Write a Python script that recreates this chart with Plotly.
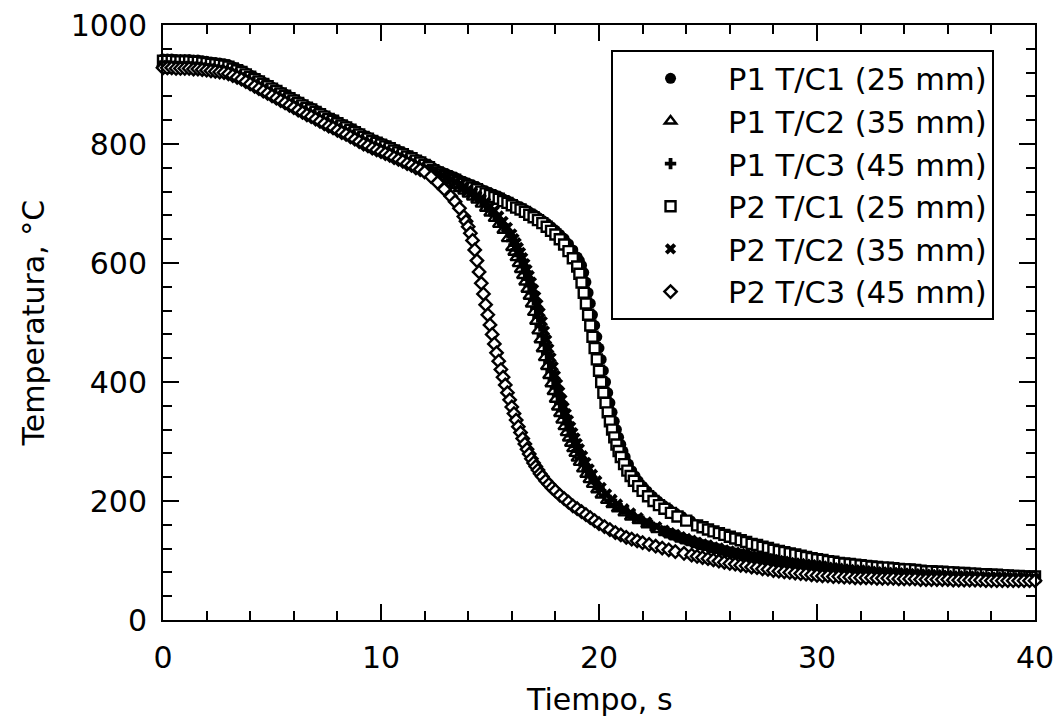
import plotly.graph_objects as go

FONT = "DejaVu Sans"

# ================= data (time in s, temperature in °C) =================
# ---- shared time samples ----
TRUNK_T = [0.0, 0.2, 0.4, 0.6, 0.8, 1.0, 1.2, 1.4, 1.6, 1.8, 2.0, 2.2, 2.4, 2.6, 2.8, 3.0, 3.2,
           3.4, 3.6, 3.8, 4.0, 4.2, 4.4, 4.6, 4.8, 5.0, 5.2, 5.4, 5.6, 5.8, 6.0, 6.2, 6.4, 6.6,
           6.8, 7.0, 7.2, 7.4, 7.6, 7.8, 8.0, 8.2, 8.4, 8.6, 8.8, 9.0, 9.2, 9.4, 9.6, 9.8, 10.0,
           10.2, 10.4, 10.6, 10.8, 11.0, 11.2, 11.4, 11.6, 11.8, 12.0]
RIGHT_PRE_T = [12.2, 12.4, 12.6, 12.8, 13.0, 13.2, 13.4, 13.6, 13.8, 14.0, 14.2, 14.4, 14.6, 14.8,
               15.0, 15.2, 15.4, 15.6, 15.8, 16.0, 16.2, 16.4, 16.6, 16.8, 17.0, 17.2, 17.4, 17.6,
               17.8, 18.0, 18.2, 18.4, 18.6, 18.8]
RIGHT_TAIL_T = [24.5, 24.75, 25.0, 25.25, 25.5, 25.75, 26.0, 26.25, 26.5, 26.75, 27.0, 27.25, 27.5,
                27.75, 28.0, 28.25, 28.5, 28.75, 29.0, 29.25, 29.5, 29.75, 30.0, 30.25, 30.5, 30.75,
                31.0, 31.25, 31.5, 31.75, 32.0, 32.25, 32.5, 32.75, 33.0, 33.25, 33.5, 33.75, 34.0,
                34.25, 34.5, 34.75, 35.0, 35.25, 35.5, 35.75, 36.0, 36.25, 36.5, 36.75, 37.0, 37.25,
                37.5, 37.75, 38.0, 38.25, 38.5, 38.75, 39.0, 39.25, 39.5, 39.75, 40.0]
MID_PRE_T = [12.2, 12.4, 12.6, 12.8, 13.0, 13.2, 13.4, 13.6, 13.8, 14.0, 14.2, 14.4, 14.6, 14.8,
             15.0, 15.2, 15.4, 15.6, 15.8]
MID_STEEP_T = [16.0, 16.1, 16.2, 16.3, 16.4, 16.5, 16.6, 16.7, 16.8, 16.9, 17.0, 17.1, 17.2, 17.3,
               17.4, 17.5, 17.6, 17.7, 17.8, 17.9, 18.0, 18.1, 18.2, 18.3, 18.4, 18.5, 18.6, 18.7,
               18.8, 18.9, 19.0]
MID_KNEE_T = [19.1, 19.25, 19.4, 19.55, 19.7, 19.9, 20.1, 20.35, 20.6, 20.85, 21.15, 21.45, 21.8,
              22.2, 22.65]
MID_TAIL_T = [23.0, 23.25, 23.5, 23.75, 24.0, 24.25, 24.5, 24.75, 25.0, 25.25, 25.5, 25.75, 26.0,
              26.25, 26.5, 26.75, 27.0, 27.25, 27.5, 27.75, 28.0, 28.25, 28.5, 28.75, 29.0, 29.25,
              29.5, 29.75, 30.0, 30.25, 30.5, 30.75, 31.0, 31.25, 31.5, 31.75, 32.0, 32.25, 32.5,
              32.75, 33.0, 33.25, 33.5, 33.75, 34.0, 34.25, 34.5, 34.75, 35.0, 35.25, 35.5, 35.75,
              36.0, 36.25, 36.5, 36.75, 37.0, 37.25, 37.5, 37.75, 38.0, 38.25, 38.5, 38.75, 39.0,
              39.25, 39.5, 39.75, 40.0]
DIAM_TAIL_T = [24.25, 24.5, 24.75, 25.0, 25.25, 25.5, 25.75, 26.0, 26.25, 26.5, 26.75, 27.0, 27.25,
               27.5, 27.75, 28.0, 28.25, 28.5, 28.75, 29.0, 29.25, 29.5, 29.75, 30.0, 30.25, 30.5,
               30.75, 31.0, 31.25, 31.5, 31.75, 32.0, 32.25, 32.5, 32.75, 33.0, 33.25, 33.5, 33.75,
               34.0, 34.25, 34.5, 34.75, 35.0, 35.25, 35.5, 35.75, 36.0, 36.25, 36.5, 36.75, 37.0,
               37.25, 37.5, 37.75, 38.0, 38.25, 38.5, 38.75, 39.0, 39.25, 39.5, 39.75, 40.0]

# ---- P1 T/C1 (25 mm) ----
p1_tc1_time = TRUNK_T + RIGHT_PRE_T + \
    [19.0, 19.1, 19.2, 19.3, 19.4, 19.5, 19.6, 19.7, 19.8, 19.9, 20.0, 20.1, 20.2, 20.3, 20.4,
     20.5, 20.6, 20.7, 20.8, 20.9, 21.0, 21.1, 21.2,
     21.35, 21.5, 21.65, 21.8, 22.0, 22.2, 22.45, 22.7, 22.95, 23.2, 23.5, 23.8, 24.2] + RIGHT_TAIL_T
p1_tc1_temp = [943, 943, 943, 942, 942, 942, 942, 941, 941, 940,
               939, 938, 937, 936, 935, 933, 930, 927, 924, 920,
               916, 912, 908, 904, 900, 896, 892, 888, 884, 880,
               876, 872, 868, 864, 861, 857, 853, 849, 845, 842,
               838, 834, 831, 827, 823, 819, 815, 812, 808, 805,
               802, 799, 796, 792, 789, 786, 782, 779, 775, 772,
               768,
               765, 760, 756, 753, 750, 747, 744, 740, 737, 734, 731, 728, 724, 721, 718, 715, 712,
               708, 705, 701, 697, 694, 690, 686, 682, 677, 672, 667, 661, 655, 648, 641, 632, 622,
               610, 604, 596, 584, 568, 550, 532, 513, 495, 476, 457, 438, 419, 400, 382, 365, 349,
               334, 320, 307, 295, 284, 274,
               262, 251, 242, 234, 225, 217, 208, 200, 193, 187, 180, 174, 167,
               160, 157, 153, 150, 147, 144, 141, 138, 135, 132,
               129, 127, 124, 122, 119, 117, 115, 113, 111, 109,
               107, 105, 103, 102, 100, 99, 97, 96, 95, 94,
               93, 92, 91, 90, 89, 89, 88, 87, 86, 86,
               85, 84, 83, 83, 82, 82, 81, 81, 80, 80,
               79, 79, 78, 78, 77, 77, 76, 76, 75, 75,
               74, 74, 74]

# ---- P1 T/C2 (35 mm) ----
p1_tc2_time = TRUNK_T + MID_PRE_T + MID_STEEP_T + MID_KNEE_T + MID_TAIL_T
p1_tc2_temp = [934, 934, 934, 933, 933, 933, 933, 932, 932, 931,
               930, 929, 928, 927, 926, 924, 921, 918, 915, 911,
               907, 903, 899, 895, 891, 887, 883, 879, 875, 871,
               867, 863, 859, 855, 852, 848, 844, 840, 836, 833,
               829, 825, 822, 818, 814, 810, 806, 803, 799, 796,
               793, 790, 787, 783, 780, 777, 773, 770, 766, 763,
               759,
               754, 749, 746, 742, 738, 734, 730, 725, 721, 716, 711, 706, 699, 692, 684, 675, 665,
               655, 641,
               626, 618, 609, 599, 589, 579, 568, 556, 544, 531, 517, 502, 486, 471, 456, 441, 426,
               411, 397, 384, 371, 358, 347, 336, 325, 315, 306, 297, 288, 280, 272,
               265, 254, 245, 236, 228, 219, 210, 201, 194, 187, 180, 173, 167, 160, 152,
               147, 143, 140, 136, 133, 130, 127, 124, 122, 119,
               117, 114, 112, 110, 108, 106, 104, 102, 101, 99,
               98, 96, 95, 93, 92, 91, 90, 89, 88, 87,
               87, 86, 85, 84, 83, 82, 82, 81, 80, 79,
               79, 78, 78, 77, 77, 76, 76, 75, 75, 74,
               74, 73, 73, 72, 72, 72, 72, 71, 71, 70,
               70, 70, 70, 69, 69, 69, 69, 68, 68]

# ---- P1 T/C3 (45 mm) ----
p1_tc3_time = TRUNK_T + MID_PRE_T + MID_STEEP_T + \
    [19.15, 19.3, 19.45, 19.6, 19.8, 20.0, 20.25, 20.5, 20.75, 21.0, 21.3, 21.6, 22.0, 22.4] + \
    MID_TAIL_T
p1_tc3_temp = [938, 938, 938, 937, 937, 937, 937, 936, 936, 935,
               934, 933, 932, 931, 930, 928, 925, 922, 919, 915,
               911, 907, 903, 899, 895, 891, 887, 883, 879, 875,
               871, 867, 863, 859, 856, 852, 848, 844, 840, 837,
               833, 829, 826, 822, 818, 814, 810, 807, 803, 800,
               797, 794, 791, 787, 784, 781, 777, 774, 770, 767,
               763,
               758, 753, 748, 745, 741, 737, 733, 729, 724, 720, 715, 710, 704, 697, 690, 681, 672,
               663, 652,
               638, 630, 622, 613, 604, 594, 584, 573, 562, 550, 538, 524, 509, 494, 478, 463, 448,
               433, 418, 404, 390, 377, 364, 352, 341, 330, 320, 310, 301, 292, 284,
               272, 261, 251, 242, 231, 221, 210, 201, 194, 187, 180, 173, 166, 159,
               149, 145, 142, 138, 135, 132, 129, 126, 124, 121,
               119, 116, 114, 112, 110, 108, 106, 104, 103, 101,
               100, 98, 97, 95, 94, 93, 92, 91, 90, 89,
               88, 87, 86, 85, 84, 83, 83, 82, 81, 80,
               80, 79, 79, 78, 78, 77, 77, 76, 76, 75,
               75, 74, 74, 73, 73, 73, 73, 72, 72, 71,
               71, 71, 71, 70, 70, 70, 70, 69, 69]

# ---- P2 T/C1 (25 mm) ----
p2_tc1_time = TRUNK_T + RIGHT_PRE_T + \
    [19.0, 19.1, 19.2, 19.3, 19.4, 19.5, 19.6, 19.7, 19.8, 19.9, 20.0, 20.1, 20.2, 20.3, 20.4,
     20.5, 20.6, 20.7, 20.8, 20.9, 21.0,
     21.15, 21.3, 21.45, 21.6, 21.8, 22.0, 22.25, 22.5, 22.75, 23.0, 23.3, 23.6, 24.0] + RIGHT_TAIL_T
p2_tc1_temp = [940, 940, 940, 939, 939, 939, 939, 938, 938, 937,
               936, 935, 934, 933, 932, 930, 927, 924, 921, 917,
               913, 909, 905, 901, 897, 893, 889, 885, 881, 877,
               873, 869, 865, 861, 858, 854, 850, 846, 842, 839,
               835, 831, 828, 824, 820, 816, 812, 809, 805, 802,
               799, 796, 793, 789, 786, 783, 779, 776, 772, 769,
               765,
               761, 756, 752, 749, 746, 743, 740, 736, 733, 730, 727, 724, 720, 717, 714, 711, 708,
               704, 701, 697, 693, 690, 686, 681, 677, 672, 667, 661, 654, 648, 640, 631, 620, 608,
               594, 582, 567, 550, 532, 513, 495, 476, 457, 438, 419, 400, 382, 365, 349, 334, 320,
               307, 295, 284, 274,
               262, 251, 242, 234, 225, 217, 208, 200, 193, 187, 180, 174, 167,
               159, 156, 152, 149, 146, 143, 140, 137, 134, 131,
               128, 126, 123, 121, 118, 116, 114, 112, 110, 108,
               106, 104, 102, 101, 99, 98, 96, 95, 94, 93,
               92, 91, 90, 89, 88, 88, 87, 86, 85, 85,
               84, 83, 82, 82, 81, 81, 80, 80, 79, 79,
               78, 78, 77, 77, 76, 76, 75, 75, 74, 74,
               73, 73, 73]

# ---- P2 T/C2 (35 mm) ----
p2_tc2_time = TRUNK_T + MID_PRE_T + MID_STEEP_T + MID_KNEE_T + MID_TAIL_T
p2_tc2_temp = [932, 932, 932, 931, 931, 931, 931, 930, 930, 929,
               928, 927, 926, 925, 924, 922, 919, 916, 913, 909,
               905, 901, 897, 893, 889, 885, 881, 877, 873, 869,
               865, 861, 857, 853, 850, 846, 842, 838, 834, 831,
               827, 823, 820, 816, 812, 808, 804, 801, 797, 794,
               791, 788, 785, 781, 778, 775, 771, 768, 764, 761,
               757,
               756, 753, 750, 747, 744, 740, 736, 732, 728, 723, 719, 713, 708, 702, 695, 688, 679,
               670, 660,
               649, 641, 634, 626, 618, 609, 599, 589, 579, 568, 556, 544, 531, 517, 502, 486, 471,
               456, 441, 426, 411, 397, 384, 371, 358, 347, 336, 325, 315, 306, 297,
               288, 276, 265, 254, 245, 234, 223, 212, 203, 195, 187, 180, 172, 165, 157,
               151, 147, 144, 140, 137, 134, 131, 128, 126, 123,
               121, 118, 116, 114, 112, 110, 108, 106, 105, 103,
               102, 100, 99, 97, 96, 95, 94, 93, 92, 91,
               89, 88, 87, 86, 85, 84, 84, 83, 82, 81,
               81, 80, 80, 79, 79, 78, 78, 77, 77, 76,
               76, 75, 75, 74, 74, 74, 74, 73, 73, 72,
               72, 72, 72, 71, 71, 71, 71, 70, 70]

# ---- P2 T/C3 (45 mm) ----
p2_tc3_time = TRUNK_T + \
    [12.3, 12.6, 12.9, 13.2, 13.4, 13.6, 13.8,
     13.9, 14.0, 14.1, 14.2, 14.3, 14.4, 14.5, 14.6, 14.7, 14.8, 14.9, 15.0, 15.1, 15.2, 15.3,
     15.4, 15.5, 15.6, 15.7, 15.8, 15.9, 16.0, 16.1, 16.2, 16.3, 16.4, 16.5, 16.6, 16.7, 16.8,
     16.9, 17.0, 17.1, 17.2, 17.3, 17.4,
     17.55, 17.7, 17.85, 18.0, 18.2, 18.4, 18.6, 18.8, 19.0, 19.2, 19.4, 19.6, 19.8, 20.0,
     20.25, 20.5, 20.75, 21.0, 21.25, 21.5, 21.75, 22.0, 22.3, 22.6, 22.9, 23.2, 23.5, 23.9] + \
    DIAM_TAIL_T
p2_tc3_temp = [928, 928, 928, 927, 927, 927, 927, 926, 926, 925,
               924, 923, 922, 921, 920, 918, 915, 912, 909, 905,
               901, 897, 893, 889, 885, 881, 877, 873, 869, 865,
               861, 857, 853, 849, 846, 842, 838, 834, 830, 827,
               823, 819, 816, 812, 808, 804, 800, 797, 793, 790,
               787, 784, 781, 777, 774, 771, 767, 764, 760, 757,
               753,
               745, 735, 724, 712, 703, 692, 678,
               670, 661, 650, 638, 622, 604, 585, 566, 548, 530, 513, 496, 480, 464, 449, 435, 421,
               408, 395, 382, 370, 358, 347, 336, 325, 315, 305, 296, 287, 279, 271, 264, 258, 252,
               246, 241,
               234, 228, 222, 217, 210, 204, 198, 192, 187, 182, 177, 172, 167, 162, 157, 152, 147,
               143, 139, 136, 133, 130, 127, 124, 121, 118, 115, 112,
               109, 107, 105, 103, 101, 99, 97, 95, 94, 92,
               91, 89, 88, 86, 85, 83, 82, 81, 80, 79,
               78, 77, 76, 75, 74, 74, 73, 73, 72, 72,
               71, 71, 71, 71, 70, 70, 70, 70, 69, 69,
               69, 69, 68, 68, 68, 68, 68, 68, 67, 67,
               67, 67, 67, 67, 66, 66, 66, 66, 66, 66,
               66, 66, 66, 66]

# ---- axis ticks ----
X_TICKS = [0, 10, 20, 30, 40]
Y_TICKS = [0, 200, 400, 600, 800, 1000]

# ================= figure =================
OPEN_LINE = dict(width=2.4, color="black")
series = [
    ("P1 T/C1 (25 mm)", p1_tc1_time, p1_tc1_temp,
     dict(symbol="circle", size=11, color="black", line=dict(width=0))),
    ("P1 T/C2 (35 mm)", p1_tc2_time, p1_tc2_temp,
     dict(symbol="triangle-up", size=10, color="white", line=OPEN_LINE)),
    ("P1 T/C3 (45 mm)", p1_tc3_time, p1_tc3_temp,
     dict(symbol="cross", size=9.5, color="black", line=dict(width=0))),
    ("P2 T/C1 (25 mm)", p2_tc1_time, p2_tc1_temp,
     dict(symbol="square", size=10, color="white", line=OPEN_LINE)),
    ("P2 T/C2 (35 mm)", p2_tc2_time, p2_tc2_temp,
     dict(symbol="x", size=10, color="black", line=dict(width=0))),
    ("P2 T/C3 (45 mm)", p2_tc3_time, p2_tc3_temp,
     dict(symbol="diamond", size=9.5, color="white", line=OPEN_LINE)),
]

fig = go.Figure()
for name, t, v, mk in series:
    fig.add_trace(go.Scatter(x=t, y=v, mode="markers", name=name, marker=mk,
                             cliponaxis=False, hoverinfo="skip"))

axis_common = dict(
    showgrid=False, zeroline=False, showline=True, linecolor="black", linewidth=2,
    mirror="allticks", ticks="inside", ticklen=16, tickwidth=2, tickcolor="black",
    tickfont=dict(family=FONT, size=30, color="black"), automargin=False,
)

fig.update_xaxes(range=[0, 40], tickvals=X_TICKS, ticktext=[str(v) for v in X_TICKS],
                 minor=dict(dtick=2, ticks="inside", ticklen=9, tickwidth=1.5, tickcolor="black",
                            showgrid=False),
                 ticklabelstandoff=10, **axis_common)
fig.update_yaxes(range=[0, 1000], tickvals=Y_TICKS, ticktext=[str(v) for v in Y_TICKS],
                 minor=dict(dtick=40, ticks="inside", ticklen=9, tickwidth=1.5, tickcolor="black",
                            showgrid=False),
                 ticklabelstandoff=8, **axis_common)

fig.update_layout(
    template="none",
    width=1057, height=727,
    margin=dict(l=163, r=22, t=25, b=107, autoexpand=False),
    paper_bgcolor="white", plot_bgcolor="white",
    font=dict(family=FONT, size=30, color="black"),
    showlegend=True,
    hovermode=False,
    legend=dict(x=0.5138, y=0.958, xanchor="left", yanchor="top",
                bgcolor="white", bordercolor="black", borderwidth=2,
                font=dict(family=FONT, size=30.5, color="black"),
                itemwidth=105, tracegroupgap=0),
    annotations=[
        dict(text="Tiempo, s", xref="paper", yref="paper", x=0.5, y=-0.134,
             xanchor="center", yanchor="middle", showarrow=False,
             font=dict(family=FONT, size=30, color="black")),
        dict(text="Temperatura, °C", xref="paper", yref="paper", x=-0.148, y=0.5,
             xanchor="center", yanchor="middle", textangle=-90, showarrow=False,
             font=dict(family=FONT, size=30, color="black")),
    ],
)

fig.write_html("out.html", config=dict(displayModeBar=False))
